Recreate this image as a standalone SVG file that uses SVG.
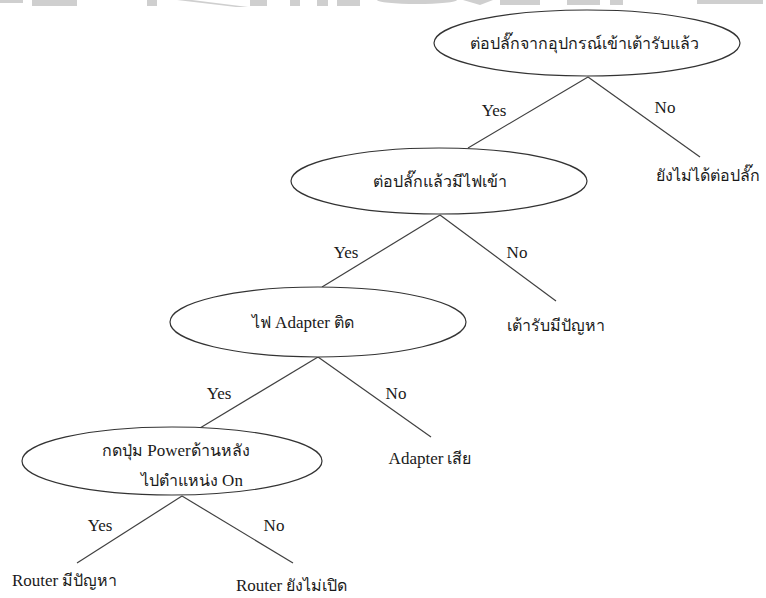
<svg xmlns="http://www.w3.org/2000/svg" width="766" height="598" viewBox="0 0 766 598">
  <style>
    .node ellipse { fill: #ffffff; stroke: #333333; stroke-width: 1.2; }
    .edge { stroke: #404040; stroke-width: 1.2; fill: none; }
    text { font-family: "Liberation Serif", "Noto Sans", "DejaVu Sans", serif; font-size: 16px; fill: #1a1a1a; }
    .lat { font-family: "Liberation Serif", serif; font-size: 17px; }
    .lbl { text-anchor: middle; }
    .mark { fill: #cfcfcf; }
  </style>
  <rect width="766" height="598" fill="#ffffff"/>

  <!-- faint banner shapes along the top edge -->
  <g id="banner">
    <rect class="mark" x="0" y="0" width="23" height="3"/>
    <rect class="mark" x="32" y="0" width="45" height="6"/>
    <rect class="mark" x="147" y="0" width="10" height="6"/>
    <polygon class="mark" points="177,0 192,0 248,7 236,7"/>
    <rect class="mark" x="250" y="0" width="17" height="6"/>
    <rect class="mark" x="290" y="0" width="10" height="6"/>
    <rect class="mark" x="317" y="0" width="11" height="6"/>
    <rect class="mark" x="337" y="0" width="23" height="6"/>
    <ellipse class="mark" cx="417" cy="0" rx="40" ry="4"/>
    <polygon class="mark" points="463,0 493,0 480,5"/>
    <rect class="mark" x="500" y="0" width="40" height="5"/>
    <rect class="mark" x="567" y="0" width="33" height="5"/>
    <rect class="mark" x="610" y="0" width="13" height="5"/>
    <rect class="mark" x="697" y="0" width="66" height="4"/>
  </g>

  <g id="connectors">
    <line class="edge" x1="588" y1="77" x2="468" y2="148"/>
    <line class="edge" x1="588" y1="77" x2="700" y2="157"/>
    <line class="edge" x1="440" y1="215" x2="322" y2="287"/>
    <line class="edge" x1="440" y1="215" x2="556" y2="301"/>
    <line class="edge" x1="318" y1="357" x2="200" y2="428"/>
    <line class="edge" x1="318" y1="357" x2="431" y2="437"/>
    <line class="edge" x1="182" y1="496" x2="77" y2="563"/>
    <line class="edge" x1="182" y1="496" x2="293" y2="563"/>
    <text x="494" y="116" class="lbl lat">Yes</text>
    <text x="665" y="113" class="lbl lat">No</text>
    <text x="346" y="258" class="lbl lat">Yes</text>
    <text x="517" y="258" class="lbl lat">No</text>
    <text x="219" y="399" class="lbl lat">Yes</text>
    <text x="396" y="399" class="lbl lat">No</text>
    <text x="100" y="531" class="lbl lat">Yes</text>
    <text x="274" y="531" class="lbl lat">No</text>
  </g>

  <g id="q1" class="node">
    <ellipse cx="587" cy="43" rx="153" ry="33"/>
    <text x="584" y="49" class="lbl">ต่อปลั๊กจากอุปกรณ์เข้าเต้ารับแล้ว</text>
  </g>
  <g id="r1">
    <text x="708" y="181" class="lbl">ยังไม่ได้ต่อปลั๊ก</text>
  </g>

  <g id="q2" class="node">
    <ellipse cx="439" cy="181" rx="148" ry="33"/>
    <text x="440" y="187" class="lbl">ต่อปลั๊กแล้วมีไฟเข้า</text>
  </g>
  <g id="r2">
    <text x="556" y="331" class="lbl">เต้ารับมีปัญหา</text>
  </g>

  <g id="q3" class="node">
    <ellipse cx="318" cy="322" rx="148" ry="35"/>
    <text x="303" y="328" class="lbl">ไฟ <tspan class="lat">Adapter</tspan> ติด</text>
  </g>
  <g id="r3">
    <text x="430" y="464" class="lbl"><tspan class="lat">Adapter</tspan> เสีย</text>
  </g>

  <g id="q4" class="node">
    <ellipse cx="172" cy="461" rx="150" ry="34"/>
    <text x="176" y="456" class="lbl">กดปุ่ม <tspan class="lat">Power</tspan>ด้านหลัง</text>
    <text x="192" y="486" class="lbl">ไปตำแหน่ง <tspan class="lat">On</tspan></text>
  </g>

  <g id="r4">
    <text x="12" y="586"><tspan class="lat">Router</tspan> มีปัญหา</text>
  </g>
  <g id="r5">
    <text x="236" y="591"><tspan class="lat">Router</tspan> ยังไม่เปิด</text>
  </g>
</svg>
